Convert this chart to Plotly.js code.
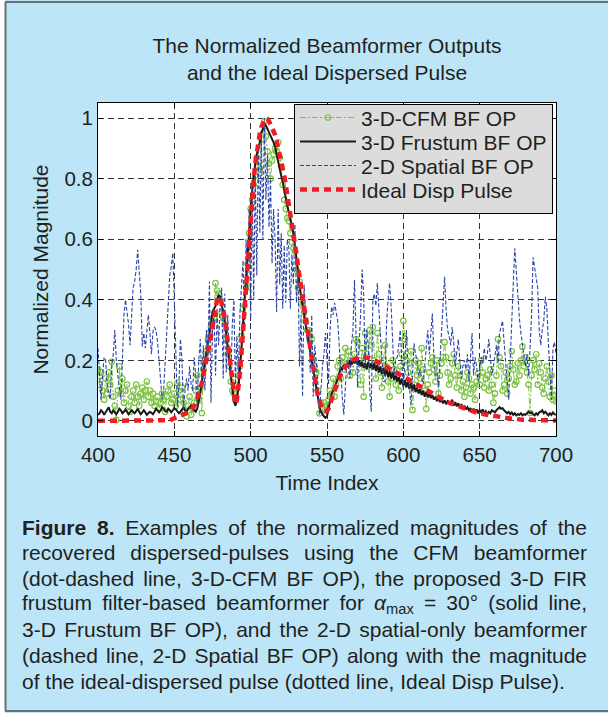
<!DOCTYPE html>
<html><head><meta charset="utf-8">
<script src="https://cdn.plot.ly/plotly-3.0.1.min.js"></script>
<style>html,body{margin:0;padding:0;background:#fff}#chart{width:608px;height:713px}</style>
</head><body><div id="chart"></div>
<script>
// ---------- data ----------
const tStart = 400, tEnd = 700;
const timeIndex = [];
for (let t = tStart; t <= tEnd; t++) timeIndex.push(t);

const cfmBF = [
0.17,0.12,0.16,0.1,0.07,0.14,0.09,0.16,0.12,0.195,
0.08,0.05,0.003,0.1,0.18,0.09,0.14,0.06,0.1,0.12,
0.05,0.03,0.08,0.1,0.06,0.12,0.08,0.05,0.09,0.11,
0.07,0.1,0.13,0.08,0.1,0.06,0.09,0.05,0.064,0.08,
0.04,0.06,0.09,0.07,0.03,0.08,0.1,0.12,0.06,0.07,
0.09,0.05,0.125,0.1,0.07,0.11,0.06,0.03,0.015,0.05,
0.08,0.02,0.04,0.06,0.1,0.15,0.07,0.11,0.026,0.17,
0.2,0.23,0.27,0.29,0.31,0.33,0.34,0.455,0.43,0.42,
0.4,0.36,0.34,0.32,0.27,0.22,0.18,0.13,0.1,0.09,
0.07,0.12,0.15,0.18,0.28,0.37,0.38,0.44,0.52,0.62,
0.7,0.73,0.78,0.81,0.87,0.84,0.83,0.93,0.95,0.99,
0.94,0.89,0.85,0.8,0.86,0.88,0.9,0.89,0.92,0.87,
0.84,0.78,0.73,0.7,0.67,0.66,0.62,0.59,0.57,0.56,
0.5,0.44,0.46,0.4,0.38,0.36,0.33,0.3,0.3,0.28,
0.27,0.2,0.18,0.16,0.1,0.025,0.06,0.04,0.06,0.035,
0.05,0.07,0.1,0.09,0.14,0.08,0.12,0.18,0.2,0.14,
0.21,0.17,0.24,0.19,0.23,0.15,0.2,0.16,0.22,0.27,
0.26,0.2,0.12,0.24,0.08,0.29,0.22,0.18,0.3,0.25,
0.31,0.2,0.14,0.29,0.22,0.16,0.11,0.2,0.25,0.18,
0.13,0.08,0.14,0.2,0.17,0.12,0.15,0.1,0.18,0.22,
0.33,0.27,0.2,0.16,0.19,0.23,0.036,0.12,0.2,0.15,
0.19,0.14,0.24,0.17,0.1,0.04,0.12,0.16,0.19,0.21,
0.17,0.13,0.2,0.09,0.15,0.19,0.21,0.26,0.21,0.16,
0.12,0.14,0.19,0.22,0.15,0.11,0.18,0.15,0.1,0.13,
0.08,0.11,0.16,0.14,0.09,0.12,0.11,0.07,0.13,0.157,
0.12,0.2,0.16,0.11,0.14,0.15,0.1,0.17,0.12,0.06,
0.09,0.15,0.27,0.21,0.18,0.1,0.12,0.16,0.09,0.14,
0.18,0.23,0.17,0.12,0.13,0.19,0.15,0.2,0.245,0.18,
0.21,0.16,0.12,0.026,0.15,0.2,0.17,0.22,0.12,0.19,
0.16,0.11,0.09,0.14,0.18,0.13,0.08,0.15,0.07,0.1,
0.065];

const frustumBF = [
0.02,0.025,0.035,0.03,0.02,0.028,0.04,0.045,0.03,0.025,
0.035,0.03,0.022,0.03,0.04,0.035,0.025,0.03,0.038,0.03,
0.022,0.028,0.035,0.03,0.025,0.032,0.04,0.03,0.022,0.028,
0.035,0.028,0.02,0.025,0.03,0.027,0.022,0.03,0.04,0.035,
0.028,0.035,0.045,0.04,0.032,0.03,0.04,0.035,0.028,0.035,
0.042,0.038,0.03,0.025,0.03,0.04,0.045,0.035,0.03,0.04,
0.045,0.05,0.04,0.035,0.03,0.04,0.06,0.09,0.13,0.16,
0.19,0.22,0.25,0.28,0.32,0.36,0.37,0.38,0.4,0.415,
0.41,0.39,0.36,0.33,0.29,0.25,0.2,0.15,0.1,0.065,
0.05,0.07,0.11,0.17,0.24,0.32,0.4,0.48,0.56,0.63,
0.7,0.76,0.81,0.85,0.88,0.9,0.92,0.95,0.97,0.98,
0.975,0.965,0.95,0.945,0.93,0.92,0.905,0.88,0.85,0.83,
0.81,0.79,0.76,0.73,0.71,0.69,0.67,0.65,0.62,0.58,
0.53,0.49,0.45,0.41,0.38,0.35,0.32,0.29,0.26,0.22,
0.2,0.17,0.13,0.1,0.07,0.05,0.03,0.02,0.015,0.01,
0.015,0.04,0.065,0.09,0.1,0.11,0.125,0.14,0.16,0.175,
0.17,0.185,0.175,0.19,0.18,0.2,0.185,0.2,0.19,0.205,
0.185,0.2,0.18,0.195,0.175,0.19,0.17,0.195,0.175,0.19,
0.17,0.19,0.165,0.185,0.16,0.18,0.155,0.175,0.15,0.17,
0.145,0.165,0.14,0.16,0.135,0.15,0.13,0.145,0.12,0.14,
0.115,0.135,0.11,0.13,0.105,0.125,0.1,0.12,0.095,0.11,
0.09,0.105,0.085,0.1,0.08,0.095,0.078,0.09,0.075,0.085,
0.07,0.08,0.065,0.078,0.062,0.07,0.058,0.068,0.055,0.065,
0.06,0.055,0.07,0.05,0.062,0.048,0.058,0.045,0.055,0.042,
0.05,0.038,0.045,0.035,0.042,0.03,0.04,0.028,0.038,0.025,
0.035,0.028,0.038,0.025,0.032,0.022,0.03,0.025,0.035,0.03,
0.028,0.035,0.04,0.045,0.04,0.042,0.035,0.03,0.025,0.03,
0.022,0.028,0.02,0.025,0.018,0.022,0.02,0.025,0.018,0.022,
0.02,0.025,0.03,0.025,0.028,0.022,0.018,0.025,0.02,0.028,
0.03,0.035,0.025,0.03,0.022,0.018,0.025,0.02,0.028,0.022,
0.02];

const spatialBF = [
0.24,0.16,0.07,0.15,0.21,0.2,0.12,0.09,0.07,0.18,
0.22,0.3,0.2,0.15,0.1,0.07,0.2,0.35,0.4,0.36,
0.32,0.25,0.36,0.44,0.46,0.5,0.565,0.48,0.42,0.245,
0.29,0.24,0.3,0.35,0.29,0.22,0.295,0.31,0.3,0.26,
0.2,0.13,0.07,0.1,0.2,0.3,0.4,0.48,0.51,0.555,
0.4,0.18,0.047,0.12,0.27,0.2,0.04,0.1,0.14,0.1,
0.18,0.12,0.1,0.21,0.15,0.05,0.2,0.27,0.13,0.25,
0.1,0.3,0.2,0.46,0.06,0.3,0.36,0.15,0.37,0.25,
0.38,0.44,0.14,0.42,0.16,0.35,0.2,0.14,0.32,0.4,
0.12,0.28,0.15,0.36,0.45,0.53,0.3,0.6,0.43,0.7,
0.33,0.77,0.4,0.84,0.48,0.91,0.62,0.95,0.6,1.0,
0.73,0.88,0.64,0.8,0.52,0.7,0.6,0.36,0.7,0.45,
0.62,0.37,0.58,0.39,0.6,0.57,0.37,0.55,0.45,0.65,
0.39,0.5,0.18,0.35,0.08,0.45,0.36,0.26,0.3,0.16,
0.35,0.08,0.25,0.2,0.13,0.02,0.1,0.18,0.22,0.29,
0.2,0.12,0.3,0.377,0.35,0.39,0.36,0.33,0.25,0.15,
0.08,0.02,0.1,0.2,0.18,0.14,0.25,0.3,0.465,0.3,
0.11,0.25,0.35,0.5,0.42,0.18,0.3,0.25,0.1,0.03,
0.4,0.42,0.38,0.455,0.35,0.28,0.2,0.13,0.13,0.32,
0.4,0.455,0.38,0.25,0.15,0.2,0.21,0.25,0.3,0.2,
0.1,0.2,0.3,0.18,0.1,0.05,0.15,0.256,0.22,0.2,
0.15,0.17,0.14,0.12,0.18,0.25,0.3,0.22,0.3,0.355,
0.21,0.15,0.16,0.11,0.2,0.3,0.4,0.476,0.37,0.3,
0.28,0.25,0.31,0.26,0.18,0.22,0.27,0.2,0.14,0.18,
0.2,0.17,0.22,0.13,0.2,0.29,0.15,0.21,0.18,0.13,
0.17,0.21,0.19,0.24,0.2,0.22,0.27,0.21,0.15,0.18,
0.21,0.25,0.19,0.29,0.31,0.33,0.26,0.2,0.12,0.07,
0.2,0.35,0.45,0.57,0.49,0.4,0.34,0.29,0.25,0.22,
0.18,0.22,0.15,0.24,0.35,0.54,0.5,0.47,0.44,0.3,
0.25,0.3,0.33,0.41,0.37,0.26,0.15,0.07,0.24,0.26,
0.22];

const idealPulse = [
0,0,0,0,0,0,0,0,0,0,
0,0,0,0,0,0,0,0,0,0,
0,0,0,0,0,0,0,0,0,0,
0,0,0,0,0,0,0,0,0,0,
0,0,0,0,0,0,0,0.002,0.004,0.006,
0.008,0.01,0.012,0.014,0.016,0.018,0.02,0.022,0.025,0.028,
0.032,0.037,0.043,0.05,0.06,0.072,0.088,0.105,0.125,0.147,
0.17,0.195,0.22,0.25,0.28,0.31,0.345,0.375,0.4,0.41,
0.405,0.39,0.37,0.34,0.3,0.26,0.21,0.165,0.12,0.08,
0.055,0.07,0.11,0.16,0.225,0.3,0.38,0.46,0.54,0.62,
0.69,0.75,0.8,0.85,0.89,0.92,0.95,0.97,0.985,0.995,
1.0,0.998,0.99,0.98,0.97,0.96,0.945,0.925,0.905,0.88,
0.86,0.835,0.81,0.78,0.75,0.72,0.69,0.655,0.62,0.585,
0.55,0.51,0.475,0.44,0.4,0.365,0.33,0.295,0.26,0.23,
0.2,0.17,0.14,0.11,0.085,0.065,0.048,0.038,0.032,0.03,
0.032,0.04,0.052,0.068,0.085,0.1,0.115,0.13,0.145,0.155,
0.165,0.172,0.179,0.185,0.19,0.195,0.199,0.202,0.205,0.207,
0.209,0.21,0.211,0.211,0.211,0.21,0.209,0.208,0.207,0.205,
0.203,0.201,0.199,0.196,0.193,0.19,0.187,0.184,0.181,0.178,
0.175,0.172,0.169,0.166,0.163,0.16,0.157,0.154,0.151,0.148,
0.145,0.142,0.139,0.136,0.133,0.13,0.127,0.124,0.121,0.118,
0.115,0.112,0.109,0.106,0.103,0.1,0.097,0.094,0.091,0.088,
0.085,0.082,0.079,0.077,0.074,0.072,0.069,0.067,0.064,0.062,
0.06,0.058,0.056,0.054,0.052,0.05,0.048,0.046,0.044,0.042,
0.04,0.038,0.036,0.035,0.033,0.032,0.03,0.029,0.028,0.026,
0.025,0.024,0.023,0.022,0.021,0.02,0.019,0.018,0.017,0.016,
0.015,0.014,0.013,0.012,0.012,0.011,0.01,0.01,0.009,0.008,
0.008,0.007,0.007,0.006,0.006,0.005,0.005,0.005,0.004,0.004,
0.004,0.003,0.003,0.003,0.003,0.002,0.002,0.002,0.002,0.002,
0.001,0.001,0.001,0.001,0.001,0.001,0.001,0.001,0.001,0.001,
0.001];

const seriesNames = ['3-D-CFM BF OP', '3-D Frustum BF OP', '2-D Spatial BF OP', 'Ideal Disp Pulse'];
const xTickVals = [400, 450, 500, 550, 600, 650, 700];
const yTickVals = [0, 0.2, 0.4, 0.6, 0.8, 1];
const yTickText = ['0', '0.2', '0.4', '0.6', '0.8', '1'];
const chartTitle = 'The Normalized Beamformer Outputs<br>and the Ideal Dispersed Pulse';
const xTitle = 'Time Index';
const yTitle = 'Normalized Magnitude';
const captionLines = [
  '<b>Figure 8.</b> Examples of the normalized magnitudes of the',
  'recovered dispersed-pulses using the CFM beamformer',
  '(dot-dashed line, 3-D-CFM BF OP), the proposed 3-D FIR',
  'frustum filter-based beamformer for <i>α</i><sub>max</sub> = 30° (solid line,',
  '3-D Frustum BF OP), and the 2-D spatial-only beamformer',
  '(dashed line, 2-D Spatial BF OP) along with the magnitude',
  'of the ideal-dispersed pulse (dotted line, Ideal Disp Pulse).'
];

// ---------- layout helpers ----------
const W = 608, H = 713;
const M = {l: 98, r: 52, t: 103, b: 277};
const PW = W - M.l - M.r, PH = H - M.t - M.b;
const px2x = px => (px - M.l) / PW;
const px2y = py => (M.t + PH - py) / PH;
const FONT = 'Liberation Sans, Arial, Helvetica, sans-serif';
const INK = '#231f20';
const BG = '#bce5f8';

const traces = [
  {x: timeIndex, y: cfmBF, name: seriesNames[0], type: 'scatter', mode: 'lines+markers',
   line: {color: '#7cc242', width: 1, dash: '6px,2px,2px,2px'},
   marker: {symbol: 'circle-open', size: 5.5, color: '#7cc242', line: {width: 1.2, color: '#7cc242'}}},
  {x: timeIndex, y: frustumBF, name: seriesNames[1], type: 'scatter', mode: 'lines',
   line: {color: '#1a1a1a', width: 2}},
  {x: timeIndex, y: spatialBF, name: seriesNames[2], type: 'scatter', mode: 'lines',
   line: {color: '#2a45a6', width: 1.1, dash: '4px,2px'}},
  {x: timeIndex, y: idealPulse, name: seriesNames[3], type: 'scatter', mode: 'lines',
   line: {color: '#ee1d25', width: 4.5, dash: '7px,5px'}}
];

const annotations = captionLines.map((txt, i) => ({
  xref: 'paper', yref: 'paper', x: px2x(21), y: px2y(527 + i * 25.7),
  xanchor: 'left', yanchor: 'middle', align: 'left', showarrow: false,
  text: txt, font: {family: FONT, size: 21, color: INK}, borderpad: 0
}));

const shapes = [
  {type: 'rect', xref: 'paper', yref: 'paper', x0: px2x(0), x1: px2x(5), y0: px2y(0), y1: px2y(713),
   fillcolor: '#ffffff', line: {width: 0}},
  {type: 'line', xref: 'paper', yref: 'paper', x0: px2x(5.5), x1: px2x(5.5), y0: px2y(2), y1: px2y(711),
   line: {color: '#6d6e71', width: 2}},
  {type: 'line', xref: 'paper', yref: 'paper', x0: px2x(5), x1: px2x(608), y0: px2y(2), y1: px2y(2),
   line: {color: '#6d6e71', width: 2}},
  {type: 'line', xref: 'paper', yref: 'paper', x0: px2x(5), x1: px2x(608), y0: px2y(711), y1: px2y(711),
   line: {color: '#6d6e71', width: 2}}
];

const axisCommon = {
  showline: true, linecolor: '#000', linewidth: 1, mirror: 'ticks',
  ticks: 'inside', ticklen: 5, tickcolor: '#000', tickwidth: 1,
  showgrid: true, gridcolor: '#333', gridwidth: 1, griddash: '6px,4px',
  zeroline: false, tickfont: {family: FONT, size: 20.5, color: INK}
};

const layout = {
  width: W, height: H, autosize: false,
  margin: M, paper_bgcolor: BG, plot_bgcolor: '#ffffff',
  font: {family: FONT, color: INK},
  title: {text: chartTitle, font: {family: FONT, size: 21, color: INK},
          x: 0.5, xref: 'paper', xanchor: 'center', y: 1 - 53 / H, yref: 'container', yanchor: 'middle'},
  xaxis: Object.assign({}, axisCommon, {range: [tStart, tEnd], tickvals: xTickVals,
          title: {text: xTitle, font: {family: FONT, size: 21, color: INK}, standoff: 10}}),
  yaxis: Object.assign({}, axisCommon, {range: [-0.05, 1.05], tickvals: yTickVals, ticktext: yTickText,
          title: {text: yTitle, font: {family: FONT, size: 21, color: INK}, standoff: 10}}),
  showlegend: true,
  legend: {x: px2x(553), xanchor: 'right', y: px2y(104), yanchor: 'top',
           bgcolor: '#dcdcdc', bordercolor: '#000', borderwidth: 1,
           font: {family: FONT, size: 21, color: INK}, itemwidth: 56, tracegroupgap: 0},
  annotations: annotations,
  shapes: shapes
};

Plotly.newPlot('chart', traces, layout, {staticPlot: true, displayModeBar: false}).then(gd => {
  // justify caption lines (all but the last) between x=21 and x=586
  const target = 586 - 21;
  gd.querySelectorAll('g.annotation').forEach(g => {
    const idx = +g.getAttribute('data-index');
    if (isNaN(idx) || idx >= captionLines.length - 1) return;
    const txt = g.querySelector('text.annotation-text');
    if (!txt) return;
    const w = txt.getComputedTextLength();
    const spaces = (txt.textContent.match(/ /g) || []).length;
    if (spaces > 0 && w < target) txt.style.wordSpacing = ((target - w) / spaces).toFixed(2) + 'px';
  });
  // tighten legend row pitch to match the MATLAB-style legend
  const leg = gd.querySelector('g.legend');
  if (leg) {
    const items = Array.from(leg.querySelectorAll('g.traces'));
    const pos = items.map(it => {
      const m = /translate\(\s*([-\d.e]+)[\s,]+([-\d.e]+)\s*\)/.exec(it.getAttribute('transform') || '');
      return m ? [+m[1], +m[2]] : null;
    });
    if (items.length > 1 && pos.every(p => p)) {
      const pitch0 = pos[1][1] - pos[0][1];
      const pitch = 24;
      if (pitch0 > pitch) {
        const y0 = pos[0][1] - (pitch0 - pitch) / 2 - 4.5;
        items.forEach((it, i) => it.setAttribute('transform', 'translate(' + pos[i][0] + ',' + (y0 + i * pitch) + ')'));
        const bg = leg.querySelector('rect.bg');
        if (bg) bg.setAttribute('height', (+bg.getAttribute('height') - items.length * (pitch0 - pitch) + 1).toFixed(1));
      }
    }
  }
});
</script>
</body></html>
